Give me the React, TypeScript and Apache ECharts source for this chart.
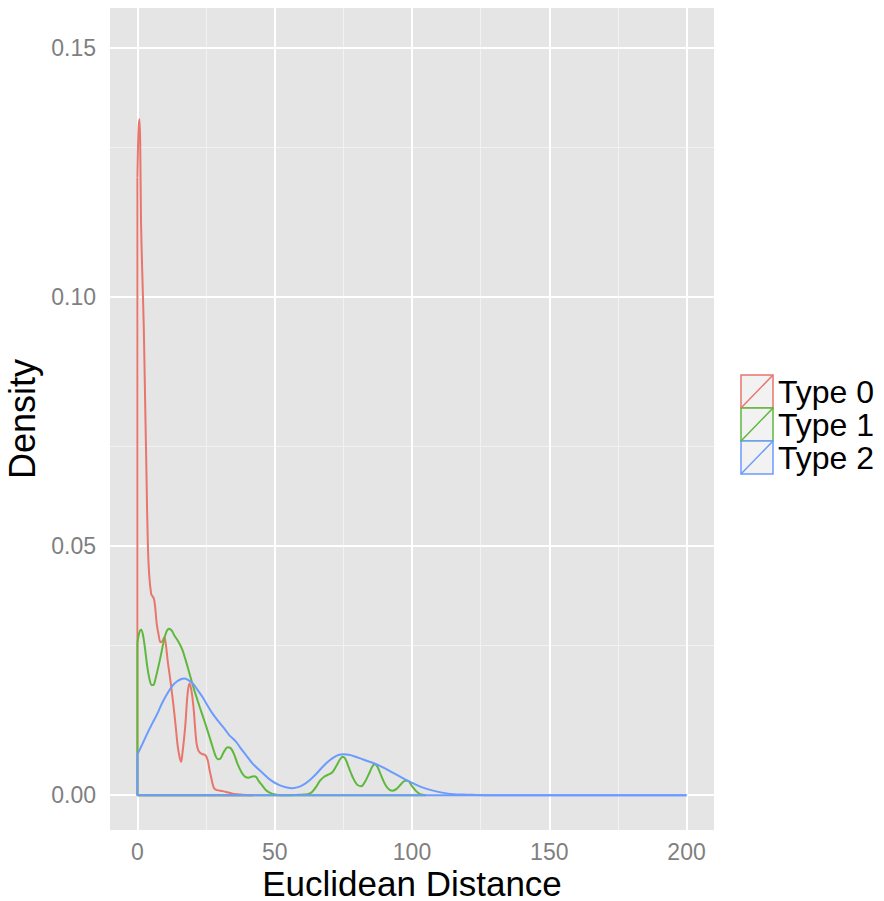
import React, { useEffect, useRef } from "react";
import * as echarts from "echarts";

const xTicks = [0, 50, 100, 150, 200];
const xMinor = [25, 75, 125, 175];
const yTicks = [0, 0.05, 0.1, 0.15];
const yMinor = [0.025, 0.075, 0.125];
const typeNames = ["Type 0", "Type 1", "Type 2"];
const typeColors = ["#E8766C", "#5DB83C", "#6C9BFF"];

const type0X = [0, 0.35, 0.7, 1.0, 1.3, 1.8, 2.3, 2.8, 3.3, 3.8, 4.3, 5.0, 5.5, 6.0, 6.5, 7.0, 7.7, 8.4, 9.1, 9.8, 10.4, 11.0, 12.0, 12.9, 13.8, 14.7, 15.4, 15.9, 16.4, 17.0, 17.5, 18.2, 18.9, 19.6, 20.4, 21.0, 21.5, 22.1, 22.8, 23.8, 24.8, 25.6, 26.2, 26.8, 27.4, 28.0, 29.0, 31.1, 34.7, 38, 42];
const type0Y = [0.124, 0.133, 0.1357, 0.131, 0.115, 0.104, 0.094, 0.079, 0.064, 0.05, 0.044, 0.0404, 0.0399, 0.0394, 0.0375, 0.0345, 0.0322, 0.0307, 0.0309, 0.0317, 0.03, 0.027, 0.023, 0.019, 0.0145, 0.0097, 0.0075, 0.0067, 0.0085, 0.0115, 0.0145, 0.02, 0.0224, 0.0212, 0.0177, 0.0135, 0.0105, 0.0091, 0.0085, 0.0082, 0.008, 0.007, 0.0052, 0.0037, 0.0022, 0.0013, 0.001, 0.0008, 0.0003, 0.0001, 0];

const type1X = [0, 0.6, 1.3, 2.0, 2.8, 3.6, 4.5, 5.2, 5.8, 6.5, 7.5, 8.5, 9.5, 10.5, 11.5, 12.5, 13.5, 14.6, 15.5, 16.4, 17.5, 18.8, 20.3, 21.9, 23.7, 25.5, 27.3, 28.5, 29.3, 30.3, 31.5, 32.8, 34.0, 35.2, 36.5, 38.0, 39.4, 40.5, 41.5, 42.5, 43.3, 44.2, 45.5, 47, 49, 52, 56, 60, 62, 63.5, 65, 66.5, 68, 69.5, 71, 72.6, 73.8, 74.8, 75.8, 77, 78.5, 80, 81.5, 83, 84.5, 85.6, 86.5, 87.5, 89, 90.5, 92, 93, 94.5, 96, 97.5, 98.5, 100, 101.5, 103, 105];
const type1Y = [0.0305, 0.0325, 0.0332, 0.0322, 0.0292, 0.0257, 0.023, 0.0221, 0.0221, 0.0232, 0.0255, 0.028, 0.0307, 0.0327, 0.0334, 0.033, 0.032, 0.0311, 0.0302, 0.0291, 0.0272, 0.0247, 0.0218, 0.019, 0.016, 0.013, 0.0098, 0.0078, 0.0072, 0.0074, 0.0087, 0.0096, 0.0094, 0.0082, 0.0062, 0.0045, 0.0036, 0.0035, 0.0037, 0.0038, 0.0036, 0.0028, 0.0019, 0.0009, 0.0003, 0, 0, 0.0001, 0.0002, 0.0006, 0.0016, 0.0029, 0.0037, 0.0041, 0.0046, 0.006, 0.0072, 0.0077, 0.0072, 0.0055, 0.0035, 0.0021, 0.0018, 0.0028, 0.0045, 0.0058, 0.0062, 0.0056, 0.0036, 0.0019, 0.001, 0.0009, 0.0013, 0.0022, 0.0029, 0.0029, 0.0018, 0.0008, 0.0002, 0];

const type2X = [0, 2, 3.6, 5.5, 7.3, 9, 10.9, 12.8, 14.6, 16, 17, 18.5, 20, 21.8, 23.7, 25.5, 27.3, 29.5, 31.6, 33.5, 35.8, 37.5, 39.6, 42, 45.7, 48.5, 51.7, 54, 56.3, 58.5, 60.5, 62.7, 65, 67.5, 69.8, 71.8, 73.5, 75, 77, 79.5, 82, 84.5, 87, 90, 93, 96, 98, 101, 104, 107, 111, 115, 120, 127, 200];
const type2Y = [0.0082, 0.0105, 0.0124, 0.0145, 0.0164, 0.0185, 0.0204, 0.022, 0.0229, 0.0233, 0.0234, 0.0231, 0.0225, 0.0212, 0.0197, 0.018, 0.0164, 0.0148, 0.0134, 0.012, 0.0108, 0.0095, 0.008, 0.0063, 0.0044, 0.003, 0.002, 0.0016, 0.0014, 0.0016, 0.0021, 0.003, 0.0042, 0.0057, 0.0069, 0.0077, 0.0081, 0.0082, 0.0081, 0.0077, 0.0072, 0.0067, 0.0062, 0.0054, 0.0045, 0.0036, 0.003, 0.0022, 0.0015, 0.001, 0.0005, 0.0002, 0.0001, 0, 0];

const FONT = "Liberation Sans, Arial, Helvetica, sans-serif";

export default function App() {
  const ref = useRef<HTMLDivElement>(null);
  useEffect(() => {
    if (!ref.current) return;
    const chart = echarts.init(ref.current, undefined, { renderer: "svg" });
    const xsList = [type0X, type1X, type2X];
    const ysList = [type0Y, type1Y, type2Y];
    const series: any[] = [
      {
        type: "line",
        name: "grid",
        data: [],
        z: 1,
        silent: true,
        markLine: {
          z: 1,
          silent: true,
          symbol: ["none", "none"],
          label: { show: false },
          animation: false,
          data: [
            ...xMinor.map((v) => ({ xAxis: v, lineStyle: { color: "#F2F2F2", width: 1, type: "solid" } })),
            ...yMinor.map((v) => ({ yAxis: v, lineStyle: { color: "#F2F2F2", width: 1, type: "solid" } })),
            ...xTicks.map((v) => ({ xAxis: v, lineStyle: { color: "#FFFFFF", width: 2, type: "solid" } })),
            ...yTicks.map((v) => ({ yAxis: v, lineStyle: { color: "#FFFFFF", width: 2, type: "solid" } })),
          ],
        },
      },
    ];
    typeNames.forEach((name, i) => {
      const xs = xsList[i];
      const ys = ysList[i];
      const curve = xs.map((x, k) => [x, ys[k]]);
      const xEnd = i === 2 ? 200 : xs[xs.length - 1];
      series.push({
        type: "line",
        name,
        data: [[0, ys[0]], [0, 0], [xEnd, 0]],
        showSymbol: false,
        symbol: "none",
        z: 3 + i * 2,
        lineStyle: { color: typeColors[i], width: 2 },
        itemStyle: { color: typeColors[i] },
        silent: true,
      });
      series.push({
        type: "line",
        name,
        data: curve,
        showSymbol: false,
        symbol: "none",
        smooth: 0.35,
        z: 4 + i * 2,
        lineStyle: { color: typeColors[i], width: 2 },
        itemStyle: { color: typeColors[i] },
        silent: true,
      });
    });

    const graphic: any[] = [];
    typeNames.forEach((name, i) => {
      const top = 375 + 33 * i;
      graphic.push({
        type: "rect",
        shape: { x: 741, y: top, width: 32, height: 33 },
        style: { fill: "#F2F2F2", stroke: typeColors[i], lineWidth: 1.5 },
        z: 10,
      });
      graphic.push({
        type: "line",
        shape: { x1: 741, y1: top + 33, x2: 773, y2: top },
        style: { stroke: typeColors[i], lineWidth: 1.5 },
        z: 11,
      });
      graphic.push({
        type: "text",
        x: 778,
        y: top + 17,
        style: { text: name, fontSize: 32, fontFamily: FONT, fill: "#000000", verticalAlign: "middle", align: "left" },
        z: 11,
      });
    });

    chart.setOption({
      animation: false,
      backgroundColor: "#FFFFFF",
      grid: {
        left: 110,
        top: 8,
        right: 170,
        bottom: 71,
        show: true,
        backgroundColor: "#E5E5E5",
        borderWidth: 0,
        containLabel: false,
        outerBoundsMode: "none",
      },
      xAxis: {
        type: "value",
        min: -10,
        max: 210,
        name: "Euclidean Distance",
        nameLocation: "middle",
        nameGap: 39,
        nameMoveOverlap: false,
        nameTextStyle: { fontSize: 35, lineHeight: 28, color: "#000000", fontFamily: FONT },
        axisLine: { show: false },
        axisTick: { show: true, customValues: xTicks, length: 7, lineStyle: { color: "#7F7F7F", width: 1.5 } },
        axisLabel: { customValues: xTicks, fontSize: 23, lineHeight: 20, color: "#7F7F7F", fontFamily: FONT, margin: 12, formatter: (v: number) => String(v) },
        splitLine: { show: false },
      },
      yAxis: {
        type: "value",
        min: -0.007,
        max: 0.158,
        name: "Density",
        nameLocation: "middle",
        nameGap: 63,
        nameTextStyle: { fontSize: 36, color: "#000000", fontFamily: FONT },
        axisLine: { show: false },
        axisTick: { show: true, customValues: yTicks, length: 7, lineStyle: { color: "#7F7F7F", width: 1.5 } },
        axisLabel: { customValues: yTicks, fontSize: 23, color: "#7F7F7F", fontFamily: FONT, margin: 14, formatter: (v: number) => v.toFixed(2) },
        splitLine: { show: false },
      },
      series,
      graphic,
    });
    return () => chart.dispose();
  }, []);
  return <div ref={ref} style={{ position: "absolute", left: 0, top: 0, width: 884, height: 901 }} />;
}
